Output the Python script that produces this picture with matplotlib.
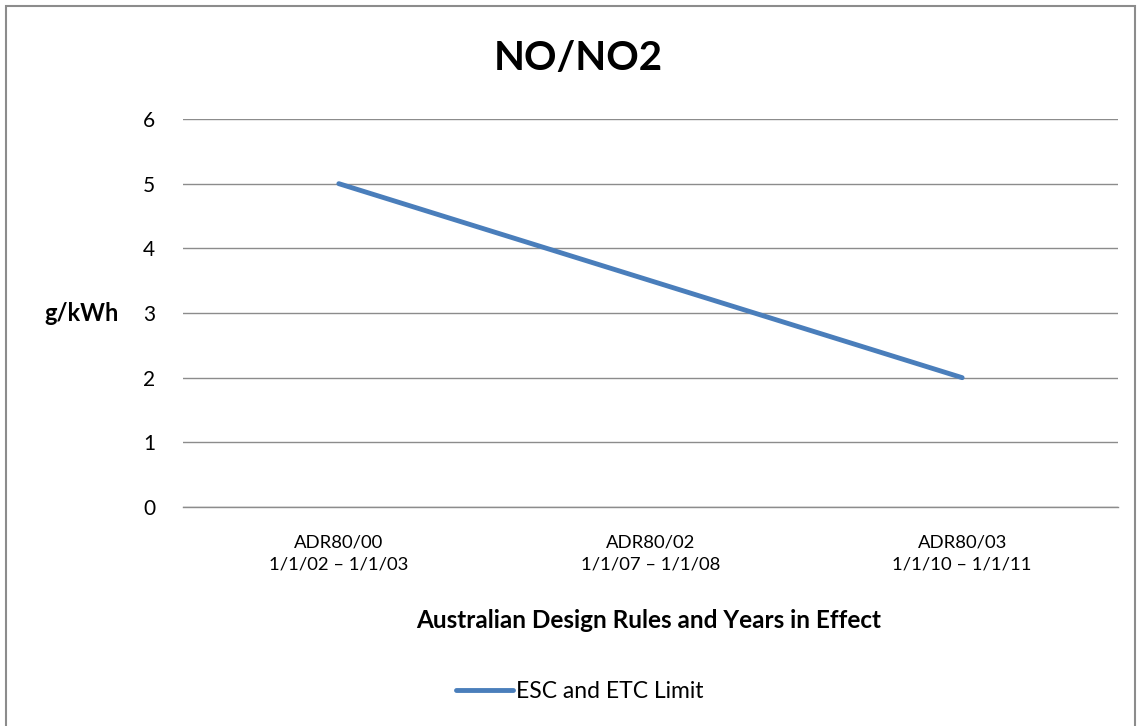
import matplotlib.pyplot as plt
from matplotlib.patches import Rectangle

categories = ['ADR80/00\n1/1/02 – 1/1/03', 'ADR80/02\n1/1/07 – 1/1/08', 'ADR80/03\n1/1/10 – 1/1/11']
limit_values = [5, 3.5, 2]
y_ticks = [0, 1, 2, 3, 4, 5, 6]

plt.rcParams['font.family'] = ['Lato', 'DejaVu Sans']

fig = plt.figure(figsize=(11.4, 7.26), dpi=100)
W, H = 1140, 726
# plot area in pixels: x 183..1118, y 119..507
ax = fig.add_axes([183 / W, 1 - 507 / H, (1118 - 183) / W, (507 - 119) / H])

# outer chart border (bottom edge runs off the image)
fig.patches.append(Rectangle((6 / W, -0.01), (1135 - 6) / W, 1 - 6 / H + 0.01,
                             transform=fig.transFigure, fill=False,
                             edgecolor='#8c8c8c', linewidth=1.5))

x = list(range(len(categories)))
line, = ax.plot(x, limit_values, color='#4a7ebb', linewidth=3.5,
                solid_capstyle='round', label='ESC and ETC Limit')

ax.set_xlim(-0.5, 2.5)
ax.set_ylim(0, 6)
ax.set_yticks(y_ticks)
ax.set_xticks(x)
ax.set_xticklabels(categories, fontsize=13.3, linespacing=1.45)
ax.tick_params(axis='y', labelsize=15, length=0, pad=20)
ax.tick_params(axis='x', length=0, pad=20)
ax.grid(axis='y', color='#8c8c8c', linewidth=1)
ax.axhline(0, color='#8c8c8c', linewidth=1, clip_on=False, zorder=0)
ax.set_axisbelow(True)
for s in ax.spines.values():
    s.set_visible(False)

fig.text(578 / W, 1 - 58 / H, 'NO/NO2', fontsize=29, fontweight='bold', ha='center', va='center')
fig.text(82 / W, 1 - 313 / H, 'g/kWh', fontsize=17, fontweight='bold', ha='center', va='center')
fig.text(649 / W, 1 - 620 / H, 'Australian Design Rules and Years in Effect', fontsize=17.5,
         fontweight='bold', ha='center', va='center')

fig.legend(handles=[line], loc='center', bbox_to_anchor=(580 / W, 1 - 692 / H), frameon=False,
           fontsize=16.5, handlelength=2.5, handletextpad=0.13)

fig.savefig('out.png', dpi=100)
